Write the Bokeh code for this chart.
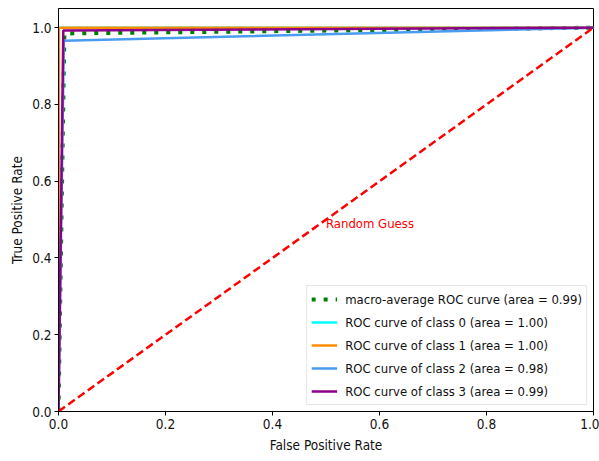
from bokeh.plotting import figure
from bokeh.models import Legend, LegendItem, FixedTicker, Range1d
from bokeh.embed import file_html
from bokeh.resources import INLINE

# Data
macro_fpr = [0.0, 0.011, 1.0]
macro_tpr = [0.0, 0.985, 1.0]
c0_fpr = [0.0, 0.0, 1.0]
c0_tpr = [0.0, 1.0, 1.0]
c1_fpr = [0.0, 0.001, 1.0]
c1_tpr = [0.0, 1.0, 1.0]
c2_fpr = [0.0, 0.010, 1.0]
c2_tpr = [0.0, 0.966, 1.0]
c3_fpr = [0.0, 0.009, 1.0]
c3_tpr = [0.0, 0.993, 1.0]
diag_x = [0.0, 1.0]
diag_y = [0.0, 1.0]
labels = [
    "macro-average ROC curve (area = 0.99)",
    "ROC curve of class 0 (area = 1.00)",
    "ROC curve of class 1 (area = 1.00)",
    "ROC curve of class 2 (area = 0.98)",
    "ROC curve of class 3 (area = 0.99)",
]
ticks = [0.0, 0.2, 0.4, 0.6, 0.8, 1.0]
annot_x, annot_y, annot_text = 0.5, 0.49, "Random Guess"

FONT = "DejaVu Sans Condensed"

p = figure(width=599, height=461, output_backend="svg", toolbar_location=None,
           title=None,
           x_range=Range1d(0, 1.0), y_range=Range1d(0, 1.05),
           min_border_left=58, min_border_right=6, min_border_top=8, min_border_bottom=50)
p.outline_line_color = "black"
p.outline_line_width = 1
p.xgrid.visible = False
p.ygrid.visible = False

for ax in (p.xaxis[0], p.yaxis[0]):
    ax.ticker = FixedTicker(ticks=ticks)
    ax.major_label_overrides = {t: f"{t:.1f}" for t in ticks}
    ax.minor_tick_line_color = None
    ax.major_tick_in = 0
    ax.major_tick_out = 4
    ax.major_label_text_font = FONT
    ax.major_label_text_font_size = "13.5px"
    ax.major_label_text_color = "#111111"
    ax.axis_label_text_font = FONT
    ax.axis_label_text_font_size = "13.5px"
    ax.axis_label_text_font_style = "normal"
    ax.axis_label_text_color = "#111111"
    ax.axis_line_color = "black"
    ax.major_label_standoff = 3

p.xaxis.axis_label = "False Positive Rate"
p.yaxis.axis_label = "True Positive Rate"
p.xaxis.axis_label_standoff = 5
p.yaxis.axis_label_standoff = 4

r_macro = p.line(macro_fpr, macro_tpr, line_color="green", line_width=4, line_dash="4 8")
r0 = p.line(c0_fpr, c0_tpr, line_color="aqua", line_width=2.5)
r1 = p.line(c1_fpr, c1_tpr, line_color="darkorange", line_width=2.5)
r2 = p.line(c2_fpr, c2_tpr, line_color="#4a9cf0", line_width=2.5)
r3 = p.line(c3_fpr, c3_tpr, line_color="#8b008b", line_width=2.5)
p.line(diag_x, diag_y, line_color="red", line_width=2.5, line_dash="8 4")

p.text(x=[annot_x], y=[annot_y], text=[annot_text], text_color="red",
       text_font_size="13px", text_align="left", text_baseline="middle",
       text_font={"value": FONT})

legend = Legend(items=[LegendItem(label=l, renderers=[r]) for l, r in
                       zip(labels, [r_macro, r0, r1, r2, r3])],
                location="bottom_right")
legend.label_text_font = FONT
legend.label_text_font_size = "13px"
legend.label_text_color = "#111111"
legend.glyph_height = 18
legend.label_height = 18
legend.glyph_width = 26
legend.spacing = 5
legend.padding = 4
legend.margin = 6
legend.label_standoff = 8
legend.border_line_color = "#cccccc"
legend.border_line_width = 1
legend.background_fill_alpha = 0.8
p.add_layout(legend)

open("out.html", "w").write(file_html(p, INLINE))
